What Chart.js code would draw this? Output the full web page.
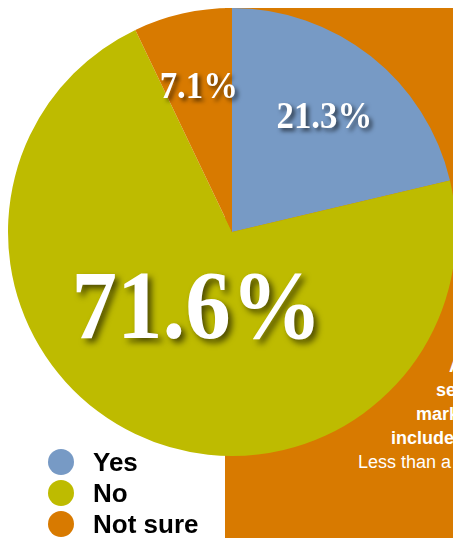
<!DOCTYPE html>
<html>
<head>
<meta charset="utf-8">
<script src="https://cdn.jsdelivr.net/npm/chart.js@4/dist/chart.umd.min.js"></script>
<style>
  html, body { margin: 0; padding: 0; width: 453px; height: 538px; overflow: hidden; background: #fff; }
  #box { position: absolute; left: 225px; top: 8px; width: 260px; height: 530px; background: #D87A00; overflow: hidden; }
  .bl { position: absolute; color: #fff; font-family: "Liberation Sans", Arial, sans-serif; font-size: 18px; white-space: nowrap; line-height: 1; }
  .b { font-weight: bold; }
  #wrap { position: absolute; left: 0; top: 0; width: 464px; height: 464px; }
  #legend { position: absolute; left: 48px; top: 446px; font-family: "Liberation Sans", Arial, sans-serif; font-weight: bold; font-size: 26px; color: #000; }
  .li { position: relative; height: 31px; }
  .dot { position: absolute; left: 0; top: 3px; width: 26px; height: 26px; border-radius: 50%; }
  .lt { position: absolute; left: 45px; top: 2px; white-space: nowrap; line-height: 28px; }
</style>
</head>
<body>
<div id="box">
  <div class="bl b" style="left:224px; top:349px;">About</div>
  <div class="bl b" style="left:211px; top:373px;">seven in ten</div>
  <div class="bl b" style="left:191px; top:397px;">marketers say</div>
  <div class="bl b" style="left:166px; top:421px;">included in plans</div>
  <div class="bl" style="left:133px; top:445px;">Less than a year</div>
</div>
<div id="wrap"><canvas id="c" width="464" height="464"></canvas></div>
<div id="legend"></div>
<script>
const categories = ["Yes", "No", "Not sure"];
const shares = [21.3, 71.6, 7.1];
const valueLabels = ["21.3%", "71.6%", "7.1%"];
const colors = ["#779AC5", "#BEBB00", "#D87A00"];

const labelPlugin = {
  id: 'sliceLabels',
  afterDatasetsDraw(chart) {
    const ctx = chart.ctx;
    const meta = chart.getDatasetMeta(0);
    const radiusFactor = [0.665, 0.365, 0.67];
    const fontSizes = [37, 98, 37];
    const xScale = [0.94, 0.93, 0.94];
    meta.data.forEach((arc, i) => {
      const p = arc.getProps(['x', 'y', 'startAngle', 'endAngle', 'outerRadius'], true);
      const mid = (p.startAngle + p.endAngle) / 2;
      const r = p.outerRadius * radiusFactor[i];
      const cx = p.x + Math.cos(mid) * r;
      const cy = p.y + Math.sin(mid) * r;
      ctx.save();
      ctx.font = 'bold ' + fontSizes[i] + 'px "Liberation Serif", "Times New Roman", serif';
      ctx.textAlign = 'center';
      ctx.textBaseline = 'alphabetic';
      const m = ctx.measureText(valueLabels[i]);
      const asc = m.actualBoundingBoxAscent;
      ctx.translate(cx, cy + asc / 2);
      ctx.scale(xScale[i], 1);
      ctx.shadowColor = 'rgba(0,0,0,0.6)';
      ctx.shadowOffsetX = fontSizes[i] > 50 ? 4 : 3;
      ctx.shadowOffsetY = fontSizes[i] > 50 ? 4 : 3;
      ctx.shadowBlur = fontSizes[i] > 50 ? 6 : 4;
      ctx.fillStyle = '#fff';
      ctx.fillText(valueLabels[i], 0, 0);
      ctx.restore();
    });
  }
};

new Chart(document.getElementById('c'), {
  type: 'pie',
  data: {
    labels: categories,
    datasets: [{ data: shares, backgroundColor: colors, borderWidth: 0 }]
  },
  options: {
    responsive: false,
    animation: false,
    devicePixelRatio: 1,
    layout: { padding: 8 },
    plugins: { legend: { display: false }, tooltip: { enabled: false } }
  },
  plugins: [labelPlugin]
});

const leg = document.getElementById('legend');
categories.forEach((c, i) => {
  const d = document.createElement('div');
  d.className = 'li';
  d.innerHTML = '<span class="dot" style="background:' + colors[i] + '"></span><span class="lt">' + c + '</span>';
  leg.appendChild(d);
});
</script>
</body>
</html>
